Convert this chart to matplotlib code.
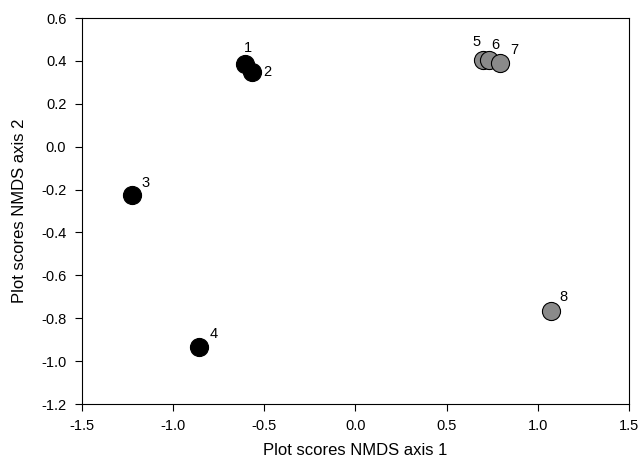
'''NMDS ordination plot of plot scores'''

import matplotlib
matplotlib.use("Agg")
import matplotlib.pyplot as plt
import matplotlib.ticker as mticker

plt.rcParams['font.family'] = ['Liberation Sans', 'DejaVu Sans']
plt.rcParams['axes.unicode_minus'] = False

# plot scores
labels = ["1", "2", "3", "4", "5", "6", "7", "8"]
axis1 = [-0.604, -0.568, -1.226, -0.859, 0.700, 0.730, 0.793, 1.074]
axis2 = [0.387, 0.350, -0.226, -0.933, 0.405, 0.403, 0.392, -0.767]
groups = ["a", "a", "a", "a", "b", "b", "b", "b"]

colours = {"a": "black", "b": "#8a8a8a"}
# label offsets in points (x, y)
offsets = {"1": (2, 11), "2": (11, 0), "3": (10, 9), "4": (11, 9),
           "5": (-5, 13), "6": (5, 11), "7": (10, 9), "8": (9, 10)}

fig = plt.figure(figsize=(6.42, 4.70), dpi=100)
ax = fig.add_axes([0.127, 0.1404, 0.853, 0.8213])

for x, y, g, lab in zip(axis1, axis2, groups, labels):
    ax.scatter(x, y, s=170, color=colours[g], edgecolors="black",
               linewidths=0.8, zorder=3)
    ax.annotate(lab, (x, y), xytext=offsets[lab], textcoords="offset points",
                ha="center", va="center", fontsize=10.5)

ax.set_xlim(-1.5, 1.5)
ax.set_ylim(-1.2, 0.6)
ax.xaxis.set_major_locator(mticker.MultipleLocator(0.5))
ax.yaxis.set_major_locator(mticker.MultipleLocator(0.2))
ax.xaxis.set_major_formatter(mticker.FormatStrFormatter('%.1f'))
ax.yaxis.set_major_formatter(mticker.FormatStrFormatter('%.1f'))
ax.tick_params(direction='out', length=5, width=0.8, labelsize=10.5, pad=6)

ax.set_xlabel("Plot scores NMDS axis 1", fontsize=12, labelpad=7)
ax.set_ylabel("Plot scores NMDS axis 2", fontsize=12, labelpad=10)

plt.savefig("out.png", dpi=100)
